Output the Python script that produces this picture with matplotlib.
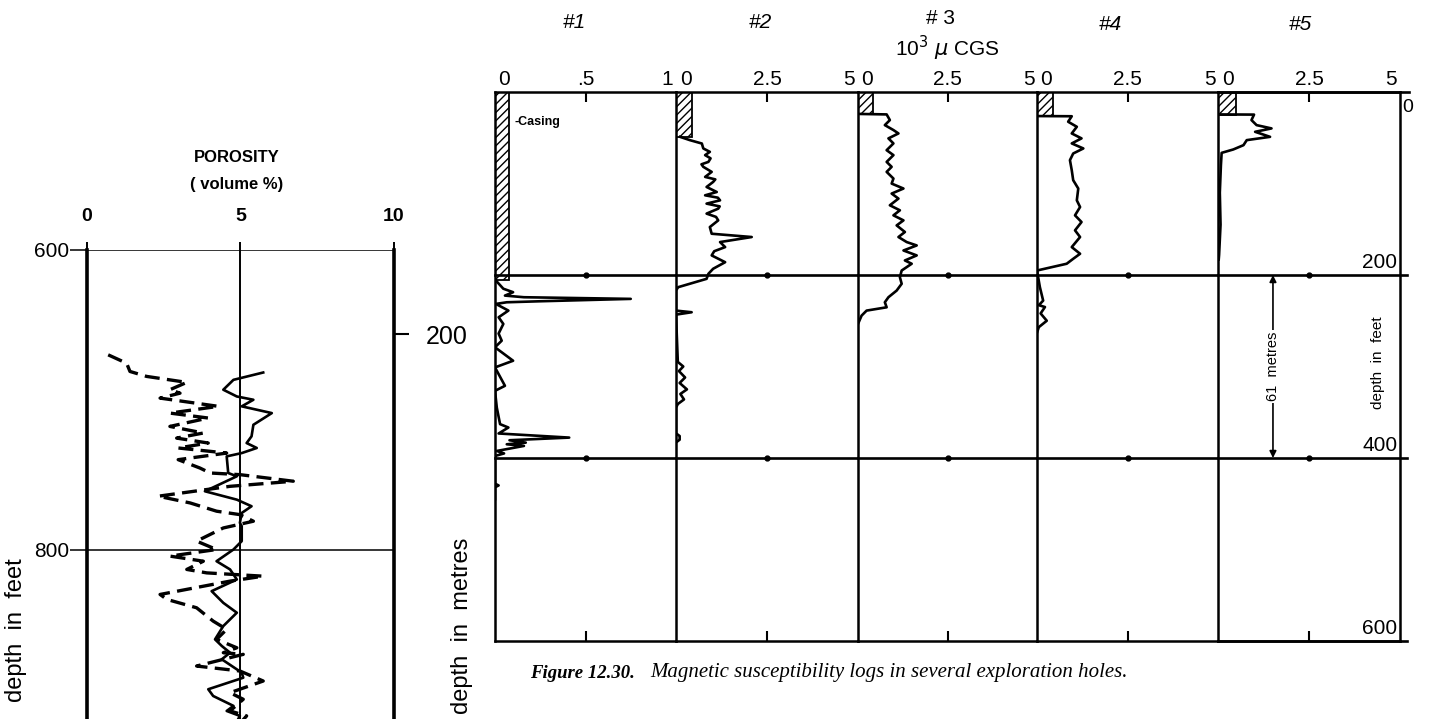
import matplotlib
matplotlib.use('Agg')

import matplotlib.pyplot as plt
from matplotlib.patches import Rectangle

plt.rcParams['font.family'] = ['Liberation Sans', 'DejaVu Sans']
plt.rcParams['hatch.linewidth'] = 1.0

# ---- porosity log (left figure) ----
por_ticks = [0, 5, 10]
por_depth_ticks = [600, 800]
por_solid_depth = [681.8, 686.7, 693.3, 697.8, 700, 704.4, 708.9, 716.7, 724.4, 728.9, 732.2,
                   735.6, 737.8, 748.9, 751.1, 761.1, 766.7, 771.1, 775.6, 782.2, 784.4, 794.4,
                   800, 807.8, 813.3, 820, 827.8, 835.6, 842.2, 851.1, 860, 864.4, 868.9, 873.3,
                   882.2, 885.6, 893.3, 897.8, 904.4, 907.8, 911.1, 918]
por_solid_val = [5.74, 4.77, 4.44, 4.88, 5.42, 5.04, 6.02, 5.42, 5.36, 5.2, 5.53,
                 5.04, 4.55, 4.6, 4.88, 3.84, 4.88, 5.36, 5.04, 4.98, 5.04, 5.04,
                 4.77, 4.22, 4.66, 4.88, 4.06, 4.44, 4.88, 4.44, 4.17, 4.39, 4.66, 4.39,
                 5.04, 5.09, 3.95, 4.11, 4.77, 4.55, 4.98, 4.8]
por_dash_depth = [670, 675.6, 681.1, 684.4, 688.4, 693.3, 695.6, 698.9, 704.4, 708.9, 712.2,
                  717.8, 722.2, 725.6, 728.9, 732.2, 735.6, 740, 745.6, 748.9, 750, 754.4,
                  757.8, 764.4, 768.9, 774.4, 776.7, 781.1, 785.6, 794.4, 800, 804.4, 807.8,
                  813.3, 815.6, 817.8, 821.1, 830, 833.3, 838.9, 847.8, 853.3, 860, 865.6,
                  868.9, 870, 877.8, 881.1, 887.8, 895.6, 900, 907.8, 911.1, 918]
por_dash_val = [0.69, 1.29, 1.4, 1.94, 3.25, 2.7, 3.03, 2.38, 4.28, 2.7, 3.95,
                2.7, 3.79, 2.92, 3.95, 2.97, 4.55, 2.97, 3.68, 4.01, 4.98, 6.72,
                4.66, 2.32, 3.36, 4.22, 4.98, 5.42, 4.44, 3.57, 4.22, 2.7, 3.79,
                3.25, 3.9, 5.74, 4.66, 2.38, 2.6, 3.57, 4.11, 4.55, 4.22, 4.88,
                4.44, 5.09, 3.57, 4.98, 5.74, 4.66, 5.09, 4.66, 5.2, 4.9]
metres_tick = [200]

# ---- magnetic susceptibility logs (right figure) ----
hole_names = ['#1', '#2', '# 3', '#4', '#5']
hole_xmax = [1, 5, 5, 5, 5]
hole_labels = [['0', '.5', '1'], ['0', '2.5', '5'], ['0', '2.5', '5'],
               ['0', '2.5', '5'], ['0', '2.5', '5']]
casing_depth = [205, 49, 24, 26, 25]
casing_width = [0.077, 0.44, 0.42, 0.44, 0.5]
feet_labels = [200, 400, 600]

h1_depth = [205, 215, 218.8, 222.5, 224.3, 226.1, 228.7, 229.8, 231.6, 238.9, 246.2, 253.5, 264,
            271.8, 279, 293.7, 301, 321.1, 326.6, 345, 363, 366.7, 373.2, 377.7, 380.6, 383.2,
            385, 386.8, 392.3, 395, 397.8, 410, 428, 430, 432, 445]
h1_val = [0, 0.046, 0.1, 0.055, 0.16, 0.75, 0.25, 0.065, 0.005, 0.074, 0.02, 0.046, 0.02,
          0.037, 0, 0.1, 0, 0.055, 0, 0.01, 0.028, 0.074, 0.02, 0.41, 0.08, 0.17,
          0.065, 0.16, 0.01, 0.05, 0, 0, 0, 0.02, 0, 0]

h2_depth = [49, 52.6, 56.3, 61.7, 65.4, 69, 72.5, 76.4, 79, 81.8, 87.3, 92.8, 95.5, 98.3, 103.8,
            109.3, 112.9, 115.5, 118.4, 122, 125, 127.5, 132.9, 136.5, 140.3, 147.6, 154.9, 158.5,
            164, 169.5, 174, 178.6, 186, 193.2, 198.7, 204.2, 213.3, 216.9, 238.9, 240.7, 243.3,
            295, 300, 305, 312, 318, 325, 330, 336, 341, 345, 373, 376, 380, 383]
h2_val = [0.11, 0.38, 0.71, 0.75, 0.93, 0.8, 0.95, 0.89, 0.7, 0.75, 0.98, 0.8, 1.08, 1.02, 0.84,
          1.12, 0.8, 1.15, 1.21, 0.84, 1.2, 1.16, 0.84, 1.1, 1.16, 0.93, 0.98, 2.08,
          1.21, 1.35, 1.05, 0.98, 1.35, 1.02, 0.89, 0.84, 0.06, 0, 0, 0.43, 0,
          0.05, 0.2, 0.08, 0.25, 0.1, 0.3, 0.12, 0.22, 0.05, 0, 0, 0.1, 0.1, 0]

h3_depth = [24, 24.5, 30.7, 36.2, 41.6, 45.3, 50.7, 56.2, 63.6, 69, 76.4, 81.8, 87.3, 94.6,
            100.1, 105.5, 111, 116.5, 123.8, 129.3, 134.8, 140.3, 145.8, 153, 158.5, 164, 167.7,
            173.2, 178.6, 184.1, 187.7, 195.1, 202.4, 209.6, 217, 224.3, 229.8, 235.3, 238.9,
            244.4, 253.5]
h3_val = [0.06, 0.8, 0.89, 0.75, 0.99, 1.13, 0.85, 0.99, 0.8, 0.99, 0.8, 0.94, 0.8, 0.99,
          0.94, 1.27, 0.94, 1.13, 0.89, 1.17, 0.99, 1.27, 1.08, 1.31, 1.13, 1.36, 1.64,
          1.27, 1.64, 1.31, 1.5, 1.22, 1.17, 1.22, 1.08, 0.85, 0.75, 0.8, 0.24,
          0.1, 0]

h4_depth = [26.3, 26.5, 32.5, 38, 45.3, 50.7, 56.2, 61.7, 67.2, 74.5, 85.5, 96.4, 105.5, 118.4,
            125.7, 134.8, 142.1, 151.2, 158.5, 169.5, 176.8, 182.3, 187.7, 195.1, 213.3, 228,
            233, 235, 242, 250, 257, 263]
h4_val = [0, 0.96, 0.86, 1.1, 0.96, 1.23, 0.96, 1.28, 1.0, 0.91, 0.96, 1.0, 1.14, 1.1,
          1.19, 1.05, 1.23, 1.05, 1.19, 0.96, 1.19, 1.0, 0.82, 0, 0.08, 0.17,
          0.05, 0.22, 0.1, 0.27, 0.05, 0]

h5_depth = [24.5, 24.7, 30.7, 36.2, 39.8, 43.5, 49, 52.6, 58.1, 62.8, 66.5, 80, 110, 145, 178, 183]
h5_val = [0, 0.99, 0.92, 1.06, 1.47, 1.02, 1.43, 0.79, 0.7, 0.42, 0.1, 0.08, 0.05, 0.07, 0.03, 0.02]

hole_depths = [h1_depth, h2_depth, h3_depth, h4_depth, h5_depth]
hole_vals = [h1_val, h2_val, h3_val, h4_val, h5_val]

W, H = 1436, 719


def box(x0, y0, x1, y1):
    # pixel box, origin top-left -> figure rect
    return [x0 / W, 1 - y1 / H, (x1 - x0) / W, (y1 - y0) / H]


def fxy(x, y):
    return x / W, 1 - y / H


fig = plt.figure(figsize=(W / 100, H / 100), dpi=100)

# # # # # # # # # # # # # # # # # # # # # # # # # # # #
# left figure: porosity
# # # # # # # # # # # # # # # # # # # # # # # # # # # #
axp = fig.add_axes(box(87, 250, 394, 719.5))
axp.set_xlim(0, 10)
axp.set_ylim(913.5, 600)
axp.plot(por_solid_val, por_solid_depth, color='k', lw=1.9, solid_joinstyle='round')
axp.plot(por_dash_val, por_dash_depth, color='k', lw=2.4, dashes=(4.5, 2.2))
axp.axvline(5, color='k', lw=1.4)
for d in por_depth_ticks:
    axp.axhline(d, color='k', lw=1.1)
axp.spines['left'].set_linewidth(2.6)
axp.spines['right'].set_linewidth(2.6)
axp.spines['top'].set_visible(False)
axp.spines['bottom'].set_visible(False)
axp.xaxis.tick_top()
axp.set_xticks(por_ticks)
axp.set_xticklabels([str(t) for t in por_ticks])
axp.tick_params(axis='x', length=6, width=1.4, labelsize=14, pad=12)
for lab in axp.get_xticklabels():
    lab.set_fontweight('bold')
axp.set_yticks(por_depth_ticks)
axp.set_yticklabels([str(t) for t in por_depth_ticks])
axp.tick_params(axis='y', length=12, width=1.1, labelsize=15, pad=1)

axm = axp.twinx()
axm.set_ylim(913.5 / 3.2808, 600 / 3.2808)
axm.set_yticks(metres_tick)
axm.set_yticklabels([str(t) for t in metres_tick])
axm.tick_params(axis='y', length=11, width=1.5, labelsize=18, pad=12)
for s in axm.spines.values():
    s.set_visible(False)

fig.text(*fxy(237, 157), 'POROSITY', ha='center', va='center', fontsize=12, fontweight='bold')
fig.text(*fxy(237, 185), '( volume %)', ha='center', va='center', fontsize=12, fontweight='bold')
fig.text(*fxy(16, 630), 'depth  in  feet', rotation=90, ha='center', va='center', fontsize=17)
fig.text(*fxy(462, 626), 'depth  in  metres', rotation=90, ha='center', va='center', fontsize=17)

# # # # # # # # # # # # # # # # # # # # # # # # # # # #
# right figure: susceptibility logs
# # # # # # # # # # # # # # # # # # # # # # # # # # # #
edges = [495, 676, 858, 1037, 1218, 1400]
title_x = [574, 760, 940, 1110, 1300]
title_y = [22, 22, 19, 25, 25]
axes = []
for i in range(5):
    ax = fig.add_axes(box(edges[i], 92, edges[i + 1], 641))
    axes.append(ax)
    xm = hole_xmax[i]
    ax.set_xlim(0, xm)
    ax.set_ylim(600, 0)
    for s in ['left', 'top', 'bottom', 'right']:
        ax.spines[s].set_linewidth(1.8)
    if i < 4:
        ax.spines['right'].set_visible(False)
    ax.set_yticks([])
    ax.set_xticks([xm / 2])
    ax.tick_params(axis='x', top=True, bottom=True, direction='in', length=7, width=1.5,
                   labeltop=False, labelbottom=False)
    for d in feet_labels[:2]:
        ax.axhline(d, color='k', lw=1.9, xmax=1.04 if i == 4 else 1, clip_on=False)
        ax.plot([xm / 2], [d], marker='o', ms=3.5, color='k')

    # casing
    ax.add_patch(Rectangle((0, 0), casing_width[i], casing_depth[i], fill=False,
                           hatch='////', edgecolor='k', lw=1.3))
    ax.plot(hole_vals[i], hole_depths[i], color='k', lw=1.9, solid_joinstyle='round')

    # scale labels above the top line
    tr = ax.get_xaxis_transform()
    labs = hole_labels[i]
    ax.text(0.02 * xm, 1.006, labs[0], transform=tr, ha='left', va='bottom', fontsize=15)
    ax.text(xm / 2, 1.006, labs[1], transform=tr, ha='center', va='bottom', fontsize=15)
    ax.text(xm * 0.985, 1.006, labs[2], transform=tr, ha='right', va='bottom', fontsize=15)

    fig.text(*fxy(title_x[i], title_y[i]), hole_names[i], ha='center', va='center',
             fontsize=15, style='italic' if i != 2 else 'normal')

fig.text(*fxy(947, 48), r'10$^3$ $\mu$ CGS', ha='center', va='center', fontsize=15)

ax1 = axes[0]
ax1.text(0.105, 33, '-Casing', ha='left', va='center', fontsize=9, fontweight='bold')

ax5 = axes[4]
ax5.axhline(0, color='k', lw=1.9, xmax=1.05, clip_on=False)
ax5.axhline(600, color='k', lw=1.9, xmax=1.04, clip_on=False)
ax5.text(1.01, 0.972, '0', transform=ax5.transAxes, ha='left', va='center', fontsize=14)
for d in feet_labels:
    ax5.text(4.93, d - 3, str(d), ha='right', va='bottom', fontsize=15)
ax5.annotate('', xy=(1.51, 200), xytext=(1.51, 400),
             arrowprops=dict(arrowstyle='<|-|>', color='k', lw=1.2, mutation_scale=10,
                             shrinkA=0, shrinkB=0))
ax5.text(1.51, 300, '61  metres', rotation=90, ha='center', va='center', fontsize=10.5,
         bbox=dict(facecolor='white', edgecolor='none', pad=1.5))
ax5.text(4.4, 296, 'depth  in  feet', rotation=90, ha='center', va='center', fontsize=11)

# caption
fig.text(*fxy(530, 673), 'Figure 12.30.', ha='left', va='center', fontsize=13.5,
         family='Liberation Serif', style='italic', fontweight='bold')
fig.text(*fxy(650, 673), 'Magnetic susceptibility logs in several exploration holes.',
         ha='left', va='center', fontsize=15, family='Liberation Serif', style='italic')

fig.savefig('out.png', dpi=100)
